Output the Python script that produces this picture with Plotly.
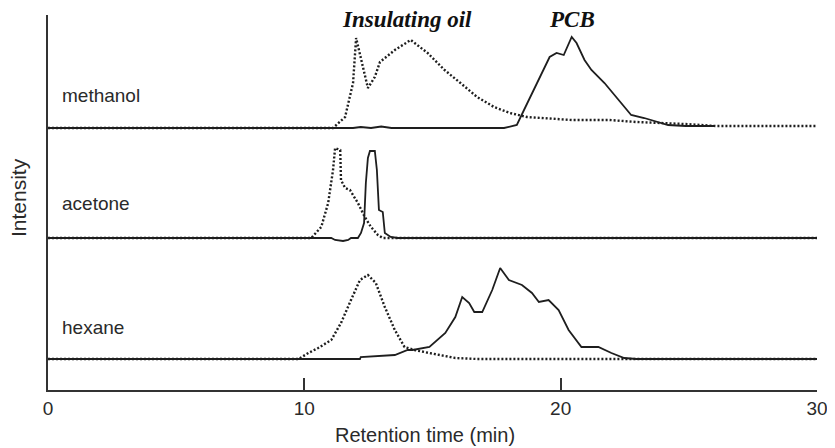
import plotly.graph_objects as go

# ---------------- data (retention time in min, relative intensity) ----------------
methanol_oil_t = [0, 11.12, 11.59, 11.90, 12.02, 12.21, 12.48, 12.75, 12.95, 13.53, 14.15, 14.81, 15.47,
                  16.09, 16.74, 17.40, 18.02, 18.68, 19.34, 20.43, 21.90, 22.95, 24.88, 26.05, 30]
methanol_oil_i = [0, 0, 11, 45, 90, 68, 40, 51, 66, 78, 88, 75, 58,
                  45, 31, 21, 15, 11, 10, 8, 8, 6, 4, 2, 2]

methanol_pcb_t = [0, 11.9, 12.2, 12.6, 13.0, 13.4, 17.79, 17.98, 18.29, 18.57, 18.95, 19.34, 19.57, 19.84,
                  20.12, 20.43, 20.62, 20.93, 21.20, 21.71, 22.25, 22.75, 23.26, 23.80, 24.19, 24.88, 26.0]
methanol_pcb_i = [0, 0, 1, 0, 1.5, 0, 0, 1, 3, 18, 38, 58, 71, 75,
                  73, 91, 85, 68, 58, 45, 28, 13, 10, 6, 3, 2, 2]

acetone_oil_t = [0, 10.27, 10.66, 10.93, 11.12, 11.20, 11.40, 11.43, 11.59, 11.78, 12.09, 12.36, 12.60,
                 12.87, 13.06, 30]
acetone_oil_i = [0, 0, 11, 35, 68, 90, 88, 58, 50, 48, 35, 21, 11,
                 3, 0, 0]

acetone_pcb_t = [0, 11.05, 11.20, 11.51, 11.71, 11.82, 12.09, 12.21, 12.33, 12.40, 12.48, 12.56, 12.75,
                 12.83, 12.91, 13.06, 13.14, 13.37, 13.64, 30]
acetone_pcb_i = [0, 0, -2, -3, -2, 0, 0, 5, 15, 55, 80, 87, 87,
                 68, 28, 26, 5, 1, 0, 0]

hexane_oil_t = [0, 9.77, 10.16, 10.54, 11.05, 11.43, 11.82, 12.17, 12.48, 12.79, 13.14, 13.53, 13.91,
                14.30, 14.88, 15.89, 16.74, 30]
hexane_oil_i = [0, 0, 6, 11, 19, 36, 59, 79, 84, 76, 52, 29, 12,
                9, 6, 1, 0, 0]

hexane_pcb_t = [0, 12.17, 12.2, 13.53, 14.03, 14.22, 14.88, 15.50, 15.89, 16.16, 16.43, 16.63, 16.94,
                17.33, 17.64, 17.98, 18.49, 18.88, 19.15, 19.53, 19.92, 20.31, 20.81, 21.47, 21.98,
                22.48, 22.95, 30]
hexane_pcb_i = [0, 0, 2, 4, 9, 9, 12, 26, 42, 62, 56, 47, 47,
                69, 91, 79, 74, 66, 57, 59, 49, 29, 12, 12, 6,
                1, 0, 0]

solvents = ["methanol", "acetone", "hexane"]
x_ticks = [0, 10, 20, 30]
x_tick_labels = ["0", "10", "20", "30"]

# ---------------- layout constants ----------------
# the page body has an 8px margin, so the figure is made 8px smaller and margins compensated
offsets = {"methanol": 262, "acetone": 152, "hexane": 31}
label_y = {"methanol": 295, "acetone": 187, "hexane": 63}
ink = "#1e1e1e"
sans = "Liberation Sans, Arial, Helvetica, sans-serif"
serif = "Liberation Serif, Times New Roman, serif"

series = [
    ("methanol", methanol_oil_t, methanol_oil_i, methanol_pcb_t, methanol_pcb_i),
    ("acetone", acetone_oil_t, acetone_oil_i, acetone_pcb_t, acetone_pcb_i),
    ("hexane", hexane_oil_t, hexane_oil_i, hexane_pcb_t, hexane_pcb_i),
]

fig = go.Figure()
for name, ot, oi, pt, pi in series:
    off = offsets[name]
    fig.add_trace(go.Scatter(x=pt, y=[v + off for v in pi], mode="lines",
                             line=dict(color=ink, width=1.8), name=name + " PCB",
                             showlegend=False, hoverinfo="skip"))
    fig.add_trace(go.Scatter(x=ot, y=[v + off for v in oi], mode="lines",
                             line=dict(color=ink, width=2.4, dash="2px,2px"), name=name + " oil",
                             showlegend=False, hoverinfo="skip"))

annotations = []
for name in solvents:
    annotations.append(dict(x=0.47, y=label_y[name], xref="x", yref="y", text=name,
                            showarrow=False, xanchor="left", yanchor="middle",
                            font=dict(family=sans, size=19, color="#2a2a2a")))

annotations += [
    dict(x=14.0, y=371, xref="x", yref="y", text="<b><i>Insulating oil</i></b>", showarrow=False,
         xanchor="center", yanchor="middle", borderpad=0,
         font=dict(family=serif, size=23, color="#111")),
    dict(x=20.43, y=371, xref="x", yref="y", text="<b><i>PCB</i></b>", showarrow=False,
         xanchor="center", yanchor="middle", borderpad=0,
         font=dict(family=serif, size=23, color="#111")),
    dict(x=0.49, y=-0.12, xref="paper", yref="paper", text="Retention time (min)", showarrow=False,
         xanchor="center", yanchor="middle", borderpad=0,
         font=dict(family=sans, size=20, color="#2a2a2a")),
    dict(x=-0.039, y=0.512, xref="paper", yref="paper", text="Intensity", showarrow=False,
         textangle=-90, xanchor="center", yanchor="middle",
         font=dict(family=sans, size=21, color="#2a2a2a")),
]

fig.update_layout(
    width=827, height=440,
    margin=dict(l=40, r=13, t=7, b=58),
    paper_bgcolor="white", plot_bgcolor="white",
    annotations=annotations,
    xaxis=dict(range=[0, 30], tickvals=x_ticks, ticktext=x_tick_labels, ticks="inside", ticklen=12,
               tickwidth=1.5, tickcolor="#333", showline=True, linecolor="#333", linewidth=2,
               showgrid=False, zeroline=False, tickfont=dict(family=sans, size=19, color="#2a2a2a")),
    yaxis=dict(range=[0, 375], showticklabels=False, ticks="", showline=True, linecolor="#333",
               linewidth=2, showgrid=False, zeroline=False),
)

fig.write_html("out.html")
